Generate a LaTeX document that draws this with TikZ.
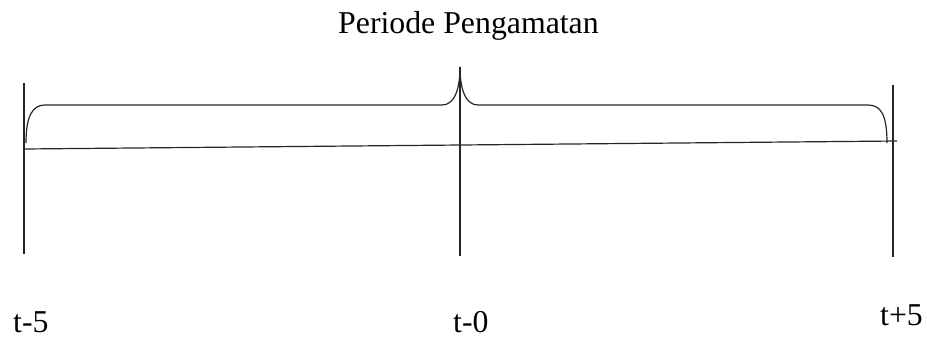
\documentclass[tikz,border=0pt]{standalone}
\usepackage{fontspec}
\setmainfont{Liberation Serif}
\begin{document}
\begin{tikzpicture}[x=1pt,y=-1pt,
  lbl/.style={anchor=base west,inner sep=0pt,font=\fontsize{31.8}{38}\selectfont},
  ln/.style={line width=1.2pt,black!85}]
\useasboundingbox (0,0) rectangle (927,338);
% title
\node[lbl] (title) at (338,33) {Periode Pengamatan};
% vertical lines
\coordinate (L1) at (24,83);  \coordinate (L2) at (24,254);
\coordinate (C1) at (460,67); \coordinate (C2) at (460,256);
\coordinate (R1) at (893,85); \coordinate (R2) at (893,257);
\draw[ln] (L1) -- (L2);
\draw[ln] (C1) -- (C2);
\draw[ln] (R1) -- (R2);
% time axis
\coordinate (A1) at (24,149); \coordinate (A2) at (897,141);
\draw[ln] (A1) -- (A2);
% brace
\coordinate (B1) at (26,143); \coordinate (B2) at (887,143);
\draw[ln] (B1) .. controls (26,115) and (33,105) .. (45,105) -- (442,105)
  .. controls (455,105) and (460,88) .. (C1)
  .. controls (460,88) and (465,105) .. (478,105) -- (868,105)
  .. controls (881,105) and (887,115) .. (B2);
% labels
\node[lbl,text depth=0pt] (tm5) at (13,332) {t-5};
\node[lbl,text depth=0pt] (t0) at (453,332) {t-0};
\node[lbl] (tp5) at (880,325) {t+5};
\end{tikzpicture}
\end{document}
